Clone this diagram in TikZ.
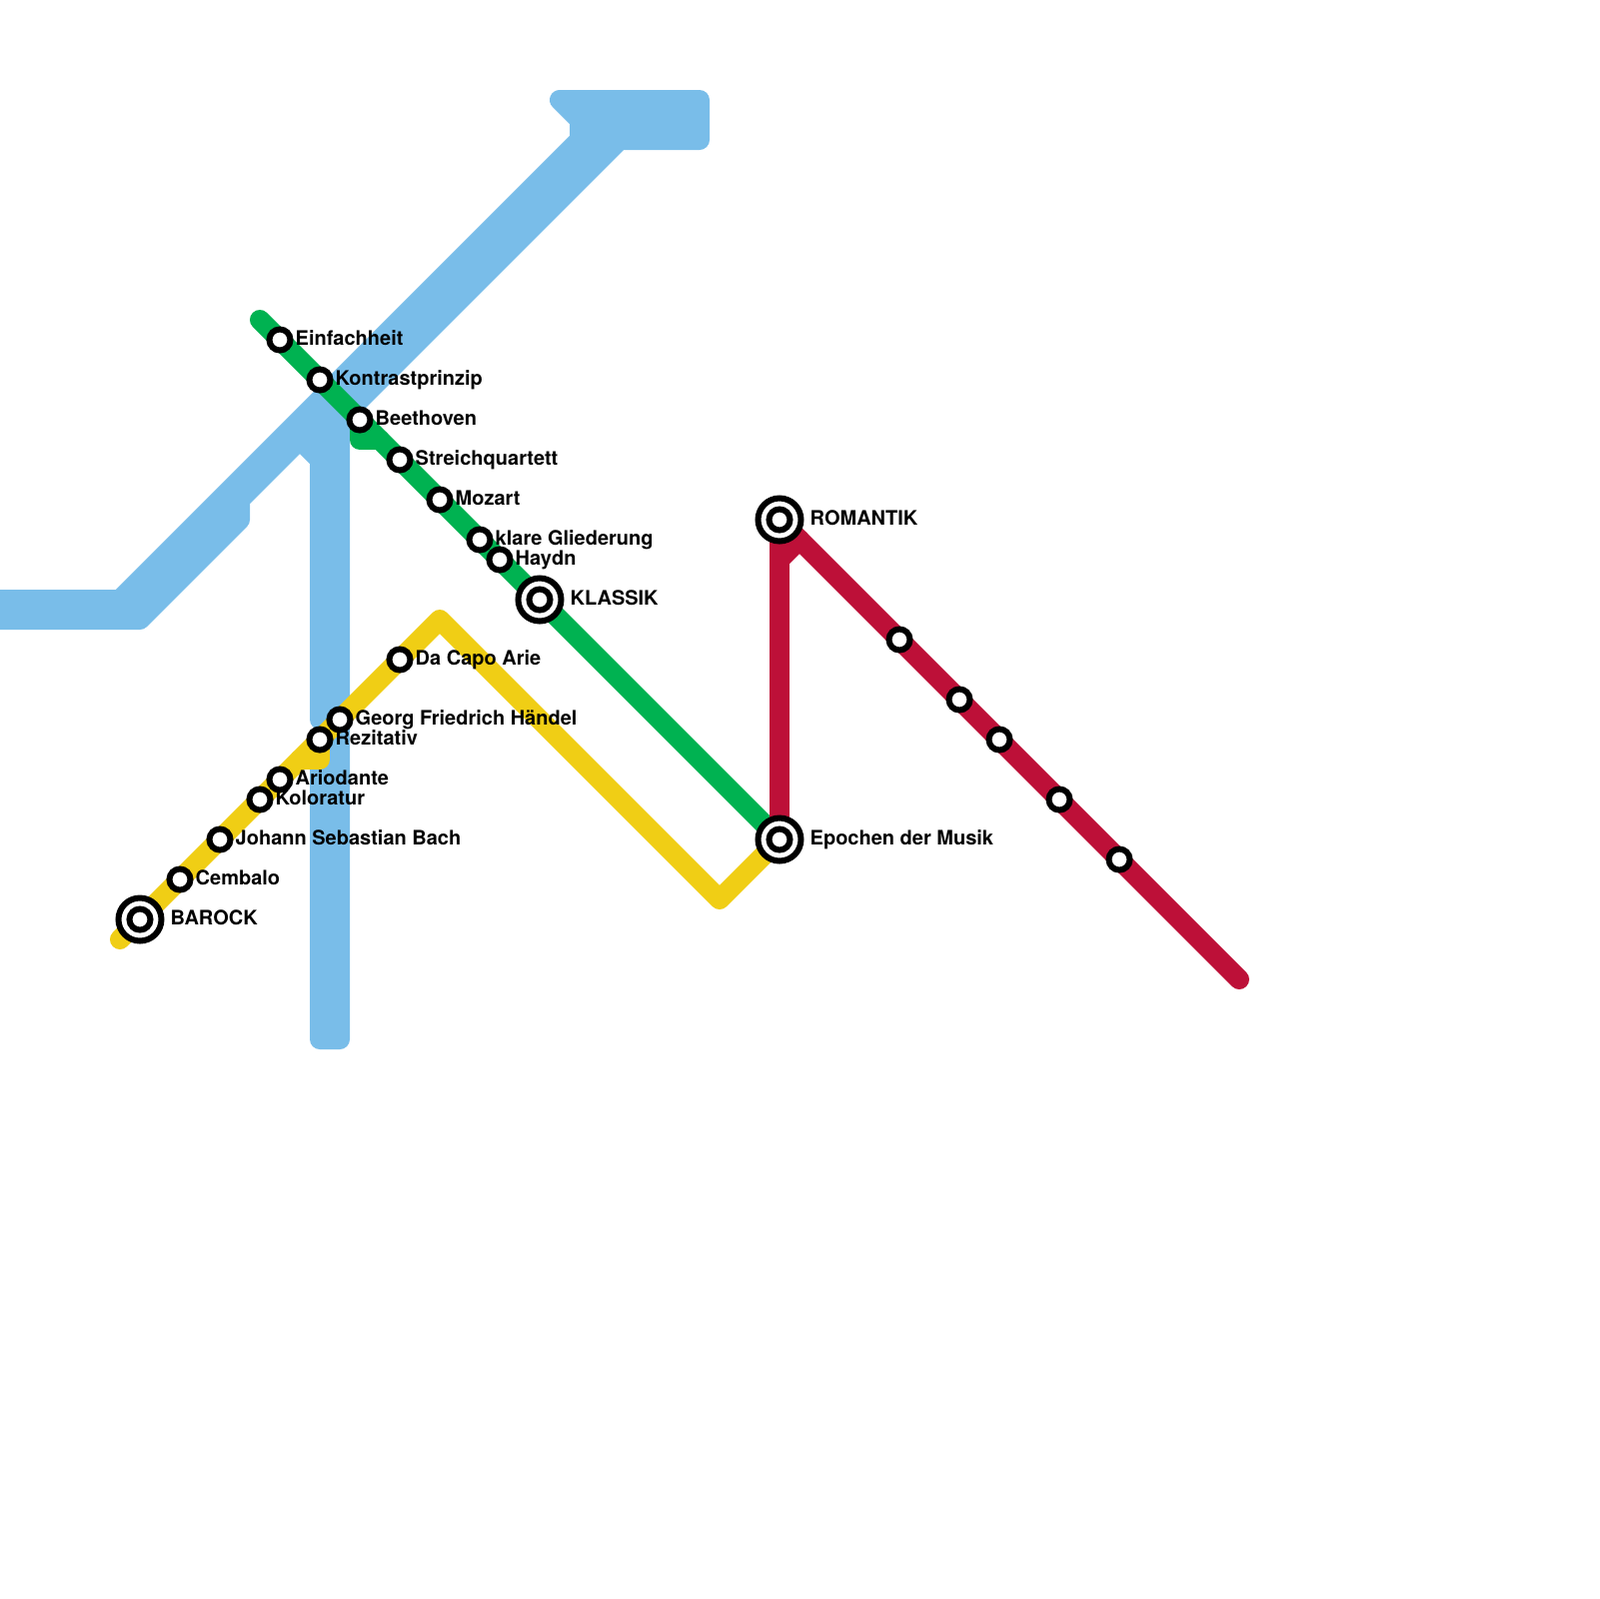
\documentclass[tikz,border=0pt]{standalone}
\usepackage{fontspec}
\usepackage{xcolor}
\setmainfont{TeX Gyre Heros}
\usetikzlibrary{backgrounds}
\definecolor{blueline}{HTML}{79BDE9}
\definecolor{greenline}{HTML}{00B251}
\definecolor{yellowline}{HTML}{F0CE15}
\definecolor{redline}{HTML}{BD1038}

\begin{document}
\begin{tikzpicture}[x=0.1mm,y=-0.1mm,
  metroline/.style={line width=2mm,line cap=round,line join=round},
  stop/.style={circle,draw=black,fill=white,line width=0.6mm,minimum size=2.1mm,inner sep=0pt},
  hub/.style={circle,draw=black,fill=white,line width=0.6mm,minimum size=4.3mm,inner sep=0pt},
  stoplabel/.style={anchor=base west,inner sep=0pt,font=\fontsize{5.69pt}{6pt}\selectfont\bfseries}]
\useasboundingbox (0,0) rectangle (1600,1600);
\node[hub] (barock) at (140,920) {};
\node[stop] (barockin) at (barock) {};
\node[stop] (cembalo) at (180,880) {};
\node[stop] (bach) at (220,840) {};
\node[stop] (koloratur) at (260,800) {};
\node[stop] (ariodante) at (280,780) {};
\node[stop] (rezitativ) at (320,740) {};
\node[stop] (haendel) at (340,720) {};
\node[stop] (dacapo) at (400,660) {};
\node[stop] (einfachheit) at (280,340) {};
\node[stop] (kontrast) at (320,380) {};
\node[stop] (beethoven) at (360,420) {};
\node[stop] (streich) at (400,460) {};
\node[stop] (mozart) at (440,500) {};
\node[stop] (klare) at (480,540) {};
\node[stop] (haydn) at (500,560) {};
\node[hub] (klassik) at (540,600) {};
\node[stop] (klassikin) at (klassik) {};
\node[hub] (romantik) at (780,520) {};
\node[stop] (romantikin) at (romantik) {};
\node[hub] (epochen) at (780,840) {};
\node[stop] (epochenin) at (epochen) {};
\node[stop] (redA) at (900,640) {};
\node[stop] (redB) at (960,700) {};
\node[stop] (redC) at (1000,740) {};
\node[stop] (redD) at (1060,800) {};
\node[stop] (redE) at (1120,860) {};
\node[stoplabel] (barocklabel) at (170,925.5) {BAROCK};
\node[stoplabel] (cembalolabel) at (195,885.5) {Cembalo};
\node[stoplabel] (bachlabel) at (235,845.5) {Johann Sebastian Bach};
\node[stoplabel] (koloraturlabel) at (275,805.5) {Koloratur};
\node[stoplabel] (ariodantelabel) at (295,785.5) {Ariodante};
\node[stoplabel] (rezitativlabel) at (335,745.5) {Rezitativ};
\node[stoplabel] (haendellabel) at (355,725.5) {Georg Friedrich Händel};
\node[stoplabel] (dacapolabel) at (415,665.5) {Da Capo Arie};
\node[stoplabel] (einfachheitlabel) at (295,345.5) {Einfachheit};
\node[stoplabel] (kontrastlabel) at (335,385.5) {Kontrastprinzip};
\node[stoplabel] (beethovenlabel) at (375,425.5) {Beethoven};
\node[stoplabel] (streichlabel) at (415,465.5) {Streichquartett};
\node[stoplabel] (mozartlabel) at (455,505.5) {Mozart};
\node[stoplabel] (klarelabel) at (495,545.5) {klare Gliederung};
\node[stoplabel] (haydnlabel) at (515,565.5) {Haydn};
\node[stoplabel] (klassiklabel) at (570,605.5) {KLASSIK};
\node[stoplabel] (romantiklabel) at (810,525.5) {ROMANTIK};
\node[stoplabel] (epochenlabel) at (810,845.5) {Epochen der Musik};
\coordinate (yellowstart) at (120,940);
\coordinate (yellowbendA) at (300,760);
\coordinate (yellowbendB) at (320,760);
\coordinate (yellowpeak) at (440,620);
\coordinate (yellowlow) at (720,900);
\coordinate (greenstart) at (260,320);
\coordinate (greenbendA) at (360,440);
\coordinate (greenbendB) at (380,440);
\coordinate (redbendA) at (780,560);
\coordinate (redbendB) at (800,540);
\coordinate (redend) at (1240,980);
\begin{scope}[on background layer]
\fill[blueline,draw=blueline,metroline] (0,600) -- (120,600) -- (580,140) -- (580,120) -- (560,100) -- (700,100) -- (700,140) -- (620,140) -- (340,420) -- (340,1040) -- (320,1040) -- (320,760) -- (330,760) -- (330,720) -- (320,720) -- (320,460) -- (300,440) -- (240,500) -- (240,520) -- (140,620) -- (0,620) -- cycle;
\draw[greenline,metroline] (greenstart) -- (epochen.center);
\draw[greenline,metroline] (beethoven.center) -- (greenbendA) -- (greenbendB);
\draw[yellowline,metroline] (yellowstart) -- (yellowpeak) -- (yellowlow) -- (epochen.center);
\draw[yellowline,metroline] (yellowbendA) -- (yellowbendB) -- (rezitativ.center);
\draw[redline,metroline] (epochen.center) -- (romantik.center);
\draw[redline,metroline] (redbendA) -- (redbendB);
\draw[redline,metroline] (romantik.center) -- (redend);
\end{scope}
\end{tikzpicture}
\end{document}
